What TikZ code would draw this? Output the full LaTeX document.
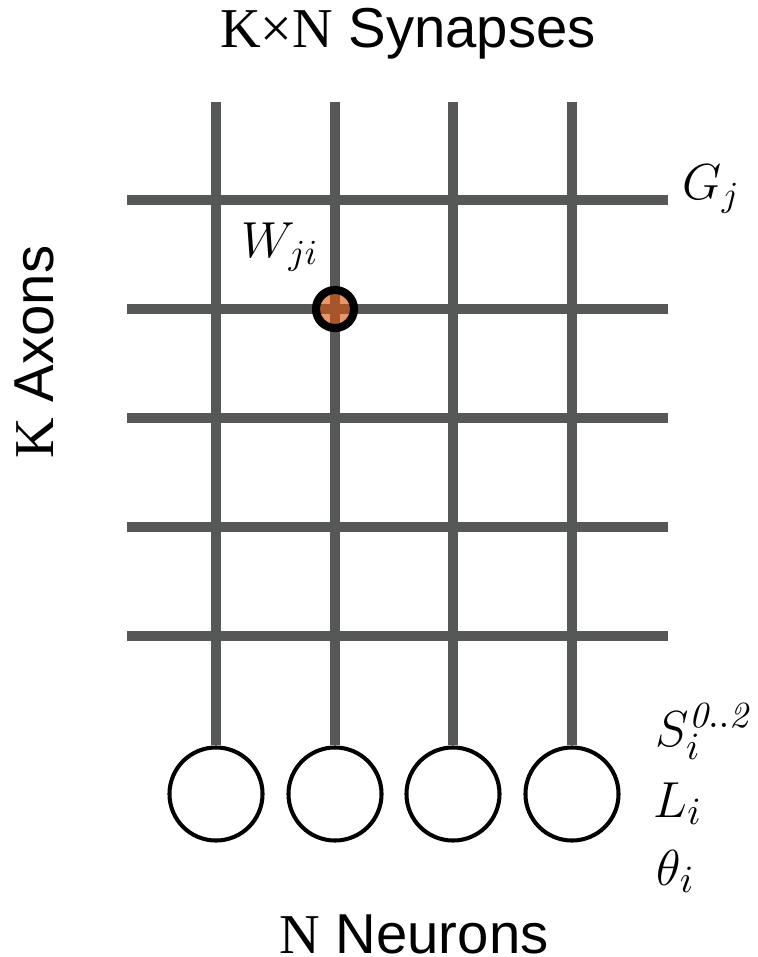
\documentclass[tikz,border=0pt]{standalone}
\usepackage{fontspec}
\setsansfont{Liberation Sans}
\newfontfamily\timesfont{Liberation Serif}
\usetikzlibrary{positioning}
\definecolor{wiregray}{RGB}{85,88,87}
\definecolor{synorange}{RGB}{218,85,16}

\begin{document}
\begin{tikzpicture}[x=0.01cm, y=-0.01cm,
  wire/.style={draw=wiregray, line width=2.85pt},
  neuron/.style={draw, circle, line width=1.15pt, minimum size=0.93cm, inner sep=0pt},
  syn/.style={circle, draw=black, line width=2.3pt, fill=synorange, fill opacity=0.62, minimum size=0.38cm, inner sep=0pt},
  big/.style={inner sep=0pt, font=\fontsize{16}{19}\selectfont\sffamily},
  mlbl/.style={anchor=base west, inner sep=0pt, font=\fontsize{15}{18}\selectfont}]
\useasboundingbox (0,0) rectangle (757,957);
% axons
\foreach \r [count=\k] in {200,309,418,527,636} {
  \coordinate (a\k w) at (127,\r);
  \coordinate (a\k e) at (668,\r);
  \draw[wire] (a\k w) -- (a\k e);
}
% neurons and dendrites
\foreach \c [count=\k] in {216,335,453,572} {
  \node[neuron] (n\k) at (\c,794) {};
  \coordinate (d\k) at (\c,102);
  \draw[wire] (d\k) -- (n\k);
}
\node[syn] (w) at (335,309) {};
\node[mlbl, font=\fontsize{14}{17}\selectfont] (wl) at (241,257) {$W_{ji}$};
\node[mlbl, font=\fontsize{14}{17}\selectfont] (gl) at (682,199) {$G_j$};
\node[mlbl] (sl) at (655,746) {$S_i^{\mathit{0..2}}$};
\node[mlbl] (ll) at (653,817) {$L_i$};
\node[mlbl] (tl) at (656,885) {$\theta_i$};
% titles
\node[big] (syntitle) at (408,34) {{\timesfont K×N} Synapses};
\node[big, rotate=90] (axtitle) at (34,352) {{\timesfont K} Axons};
\node[big] (neutitle) at (414,934) {{\timesfont N} Neurons};
\end{tikzpicture}
\end{document}
